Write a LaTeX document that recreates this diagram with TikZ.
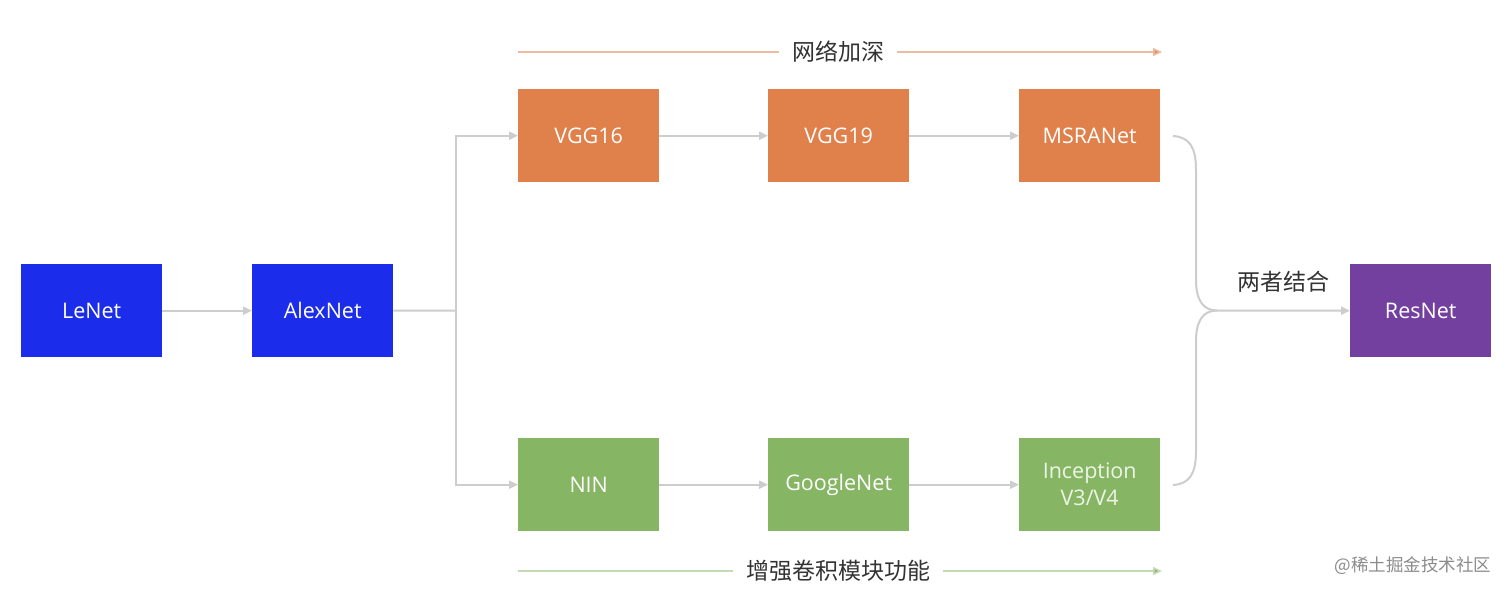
\documentclass[tikz,border=0pt]{standalone}
\usepackage{fontspec}
\setmainfont{Open Sans}
\newfontfamily\cjk{Noto Sans CJK SC}
\usetikzlibrary{arrows.meta}
\definecolor{cblue}{HTML}{1B2DEB}
\definecolor{corange}{HTML}{E0804B}
\definecolor{cgreen}{HTML}{86B563}
\definecolor{cpurple}{HTML}{7340A0}
\definecolor{cline}{HTML}{CDCDCD}
\definecolor{ctopline}{HTML}{EBBCA2}
\definecolor{ctoptip}{HTML}{E08E60}
\definecolor{cbotline}{HTML}{C4DAB3}
\definecolor{cbottip}{HTML}{8DB86E}
\definecolor{ctext}{HTML}{333333}
\tikzset{
  box/.style={rectangle, minimum width=141pt, minimum height=93pt, inner sep=0pt,
    text=white, font=\fontsize{21.5}{27}\selectfont, align=center, anchor=north west},
  conn/.style={draw=cline, line width=2pt, -{Triangle[length=9pt,width=8pt,fill=cline]}},
  plain/.style={draw=cline, line width=2pt},
  lbl/.style={font=\cjk\fontsize{23}{26}\selectfont, text=ctext, inner sep=0pt},
}
\begin{document}
\begin{tikzpicture}[x=1pt,y=-1pt]
\useasboundingbox[fill=white] (0,0) rectangle (1512,595);
% boxes
\node[box, fill=cblue] (lenet) at (21,264) {LeNet};
\node[box, fill=cblue] (alex) at (252,264) {AlexNet};
\node[box, fill=corange] (vgg16) at (518,89) {VGG16};
\node[box, fill=corange] (vgg19) at (768,89) {VGG19};
\node[box, fill=corange] (msra) at (1019,89) {MSRANet};
\node[box, fill=cgreen] (nin) at (518,438) {NIN};
\node[box, fill=cgreen] (goog) at (768,438) {GoogleNet};
\node[box, fill=cgreen, text=white!85!cgreen] (incep) at (1019,438) {Inception\\V3/V4};
\node[box, fill=cpurple] (res) at (1350,264) {ResNet};
% connectors
\draw[conn] (lenet.east) -- (alex.west);
\coordinate (split) at (456,310.5);
\draw[plain] (alex.east) -- (split);
\draw[conn] (split) |- (vgg16.west);
\draw[conn] (split) |- (nin.west);
\draw[conn] (vgg16.east) -- (vgg19.west);
\draw[conn] (vgg19.east) -- (msra.west);
\draw[conn] (nin.east) -- (goog.west);
\draw[conn] (goog.east) -- (incep.west);
% brace
\coordinate (top) at (1173,136);
\coordinate (bot) at (1173,485);
\coordinate (join) at (1217,310.5);
\draw[plain] (top) .. controls (1190,137) and (1196,148) .. (1196,170)
  -- (1196,280) .. controls (1196,300) and (1203,310.5) .. (join);
\draw[plain] (bot) .. controls (1190,484) and (1196,473) .. (1196,451)
  -- (1196,341) .. controls (1196,321) and (1203,310.5) .. (join);
\draw[conn] (join) -- (res.west);
\node[lbl] (both) at (1283,282) {两者结合};
% top and bottom arrows
\node[lbl] (deep) at (838,52) {网络加深};
\coordinate (ds) at (518,52);
\coordinate (de) at (1162,52);
\draw[draw=ctopline, line width=1.5pt] (ds) -- ([xshift=-13pt]deep.west);
\draw[draw=ctopline, line width=1.5pt, -{Triangle[length=9pt,width=8pt,fill=ctoptip]}] ([xshift=13pt]deep.east) -- (de);
\node[lbl] (conv) at (838,571) {增强卷积模块功能};
\coordinate (cs) at (518,571);
\coordinate (ce) at (1162,571);
\draw[draw=cbotline, line width=1.5pt] (cs) -- ([xshift=-13pt]conv.west);
\draw[draw=cbotline, line width=1.5pt, -{Triangle[length=9pt,width=8pt,fill=cbottip]}] ([xshift=13pt]conv.east) -- (ce);
% watermark
\node[font=\cjk\fontsize{17.5}{20}\selectfont, text=black!45, inner sep=0pt] (wm) at (1413,566) {@稀土掘金技术社区};
\end{tikzpicture}
\end{document}
